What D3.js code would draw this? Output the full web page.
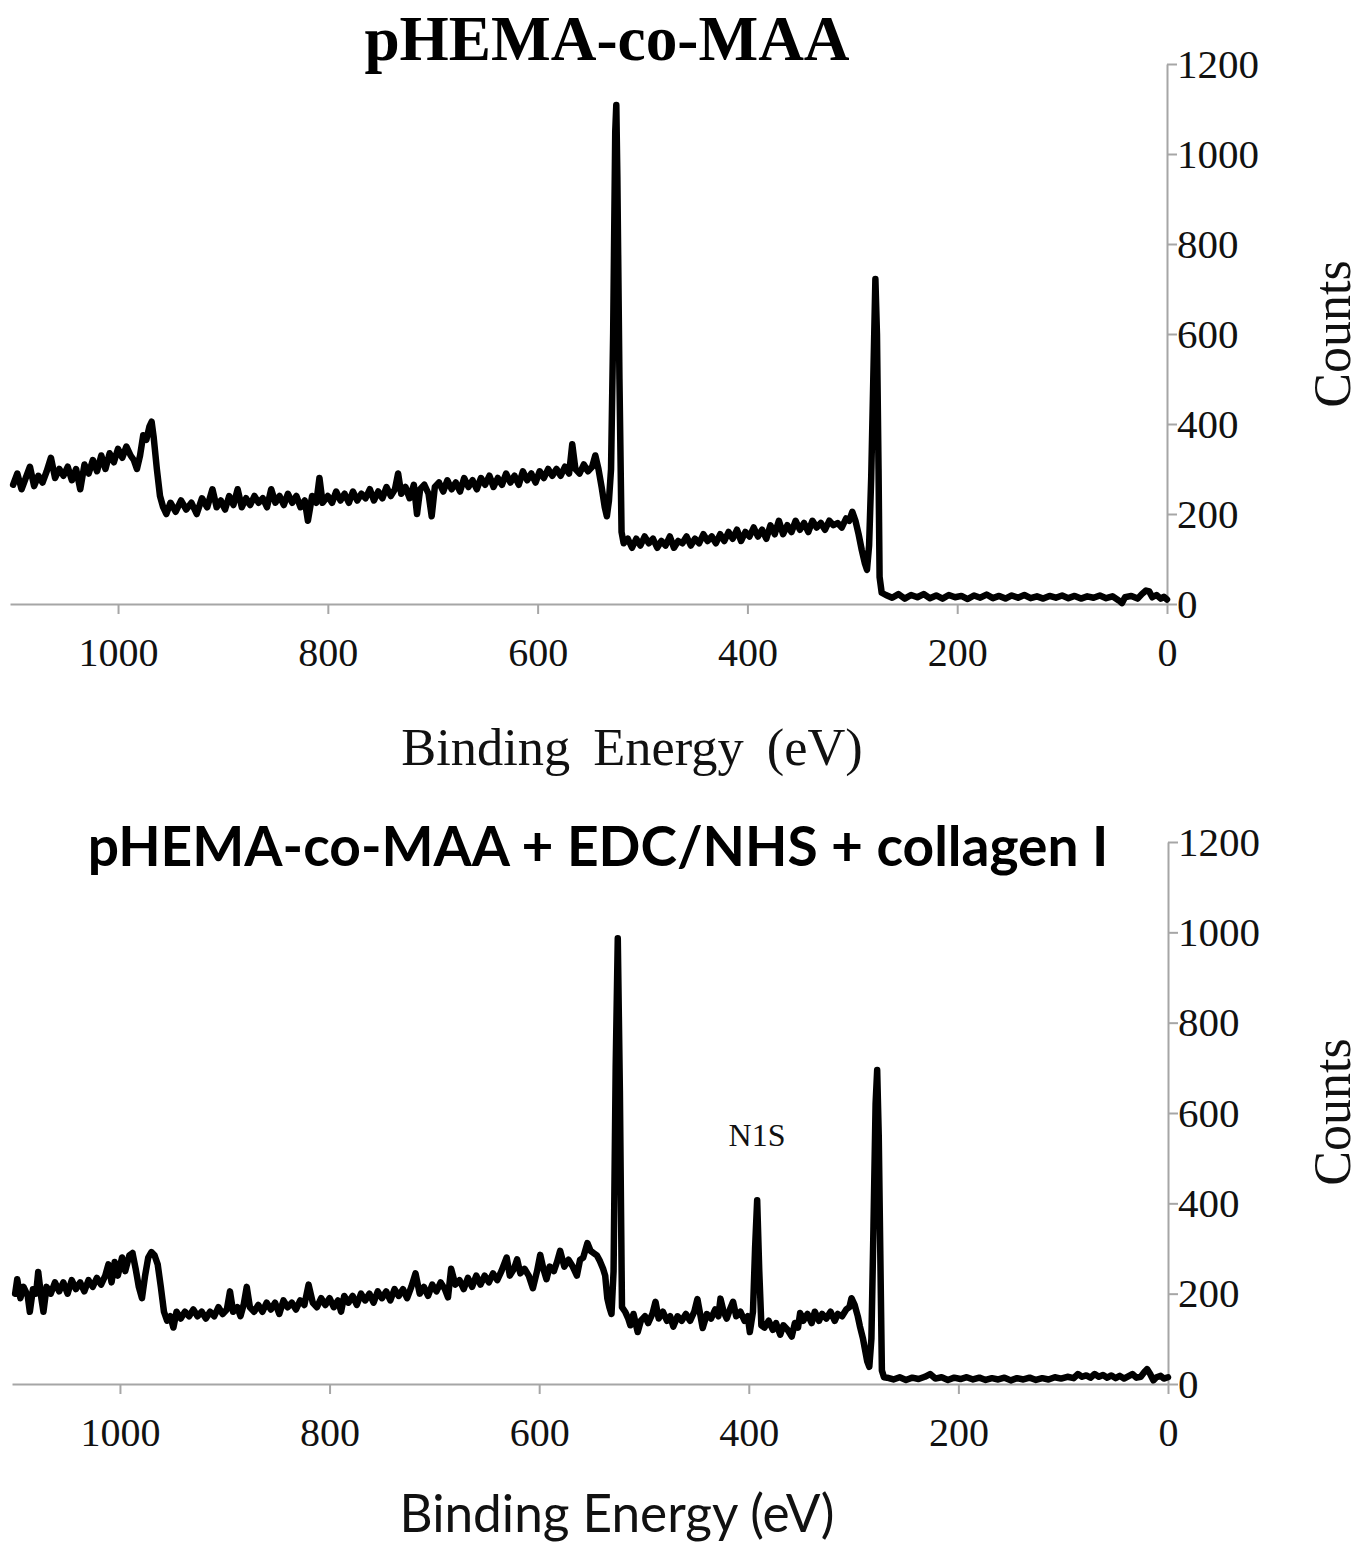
<!DOCTYPE html>
<html>
<head>
<meta charset="utf-8">
<script src="https://cdn.jsdelivr.net/npm/d3@7"></script>
<style>
  body { margin: 0; background: #fff; }
  svg { display: block; }
</style>
</head>
<body>
<div id="chart"></div>
<script>
// XPS survey spectra, [binding energy (eV), counts]
const topSpectrum = [
  [1100, 265], [1096, 290], [1092, 255], [1088, 280], [1084, 305], [1080, 262], [1076, 285], [1072, 270],
  [1068, 295], [1064, 325], [1060, 280], [1056, 300], [1052, 285], [1048, 305], [1044, 275], [1040, 300],
  [1036, 255], [1032, 310], [1028, 290], [1024, 320], [1020, 295], [1016, 330], [1012, 300], [1008, 335],
  [1004, 315], [1000, 345], [996, 325], [992, 350], [988, 330], [985, 320], [982, 300], [979, 330],
  [976, 375], [973, 365], [970, 395], [968, 405], [966, 370], [963, 300], [960, 240], [957, 215],
  [954, 200], [950, 225], [945, 205], [940, 230], [935, 210], [930, 225], [925, 200], [920, 235],
  [915, 215], [910, 255], [906, 215], [902, 230], [898, 210], [894, 240], [890, 220], [886, 255],
  [882, 215], [878, 235], [874, 220], [870, 240], [866, 225], [862, 235], [858, 215], [854, 255],
  [850, 225], [846, 240], [842, 220], [838, 245], [834, 225], [830, 240], [826, 215], [822, 230],
  [819, 185], [815, 240], [811, 225], [808, 280], [805, 225], [800, 240], [796, 225], [792, 250],
  [788, 230], [784, 245], [780, 225], [776, 250], [772, 230], [768, 245], [764, 235], [760, 255],
  [756, 230], [752, 250], [748, 235], [744, 260], [740, 240], [736, 255], [733, 290], [730, 245],
  [726, 260], [722, 235], [718, 265], [715, 200], [712, 255], [708, 265], [704, 245], [701, 195],
  [698, 260], [694, 270], [690, 250], [686, 275], [682, 255], [678, 270], [674, 250], [670, 280],
  [666, 260], [662, 275], [658, 255], [654, 280], [650, 265], [646, 285], [642, 260], [638, 280],
  [634, 265], [630, 290], [626, 270], [622, 285], [618, 265], [614, 295], [610, 275], [606, 290],
  [602, 270], [598, 295], [594, 280], [590, 300], [586, 285], [582, 300], [578, 285], [574, 305],
  [570, 290], [567, 355], [564, 300], [560, 290], [556, 310], [552, 295], [548, 305], [545, 330],
  [542, 300], [539, 260], [536, 215], [534, 195], [532, 230], [530, 300], [528, 600], [526, 1050],
  [525, 1109], [524, 950], [522, 500], [520, 160], [518, 135], [514, 145], [510, 125], [506, 145],
  [502, 130], [498, 150], [494, 135], [490, 145], [486, 125], [482, 140], [478, 130], [474, 150],
  [470, 125], [466, 140], [462, 135], [458, 150], [454, 130], [450, 145], [446, 135], [442, 155],
  [438, 140], [434, 150], [430, 135], [426, 155], [422, 140], [418, 160], [414, 145], [410, 165],
  [406, 140], [402, 160], [398, 150], [394, 170], [390, 150], [386, 165], [382, 145], [378, 175],
  [374, 155], [370, 185], [366, 155], [362, 175], [358, 160], [354, 185], [350, 165], [346, 180],
  [342, 160], [338, 185], [334, 170], [330, 180], [326, 165], [322, 185], [318, 175], [314, 180],
  [310, 170], [306, 190], [303, 185], [300, 205], [297, 185], [294, 155], [291, 120], [288, 90],
  [286, 76], [284, 130], [282, 280], [280, 500], [278, 722], [276.5, 600], [275, 300], [274, 60],
  [272, 25], [268, 20], [262, 14], [256, 22], [250, 12], [244, 20], [238, 15], [232, 22],
  [226, 13], [220, 19], [214, 12], [208, 20], [202, 15], [196, 18], [190, 11], [184, 19],
  [178, 14], [172, 21], [166, 13], [160, 18], [154, 12], [148, 19], [142, 14], [136, 20],
  [130, 13], [124, 17], [118, 12], [112, 18], [106, 14], [100, 19], [94, 13], [88, 18],
  [82, 12], [76, 17], [70, 14], [64, 19], [58, 13], [52, 17], [46, 8], [43, 2],
  [40, 15], [34, 18], [28, 12], [24, 22], [20, 30], [17, 28], [14, 15], [10, 20],
  [6, 12], [3, 16], [0, 10]
];

const bottomSpectrum = [
  [1100, 200], [1098, 232], [1095, 190], [1092, 215], [1088, 195], [1086, 160], [1083, 210], [1080, 200],
  [1078, 248], [1075, 190], [1073, 160], [1070, 215], [1066, 200], [1062, 225], [1058, 205], [1054, 225],
  [1050, 200], [1046, 230], [1042, 210], [1038, 225], [1034, 205], [1030, 230], [1026, 215], [1022, 235],
  [1018, 220], [1014, 240], [1011, 265], [1008, 225], [1005, 270], [1002, 240], [998, 280], [995, 250],
  [991, 285], [988, 290], [985, 255], [982, 215], [979, 190], [976, 240], [973, 280], [970, 292],
  [967, 285], [964, 265], [961, 215], [958, 160], [955, 140], [952, 150], [949, 125], [946, 160],
  [942, 145], [938, 160], [934, 150], [930, 165], [926, 150], [922, 160], [918, 145], [914, 160],
  [910, 150], [906, 170], [902, 155], [898, 165], [895, 205], [892, 160], [888, 170], [885, 150],
  [882, 175], [879, 215], [876, 170], [872, 160], [868, 175], [864, 160], [860, 180], [856, 165],
  [852, 180], [848, 155], [844, 185], [840, 170], [836, 180], [832, 165], [828, 185], [824, 175],
  [820, 220], [816, 180], [812, 170], [808, 190], [804, 175], [800, 190], [796, 170], [792, 185],
  [789, 160], [786, 195], [782, 180], [778, 195], [774, 175], [770, 200], [766, 185], [762, 200],
  [758, 180], [754, 205], [750, 190], [746, 205], [742, 185], [738, 210], [734, 195], [730, 210],
  [726, 190], [722, 215], [718, 245], [714, 200], [710, 215], [706, 195], [702, 220], [698, 205],
  [694, 225], [690, 210], [687, 192], [684, 255], [680, 220], [676, 230], [672, 210], [668, 235],
  [664, 215], [660, 240], [656, 220], [652, 240], [648, 225], [644, 245], [640, 230], [636, 250],
  [631, 280], [628, 240], [624, 255], [621, 276], [618, 245], [614, 255], [610, 240], [606, 212],
  [602, 250], [599, 286], [596, 255], [593, 232], [590, 260], [586, 250], [583, 270], [580, 295],
  [576, 260], [572, 275], [568, 260], [564, 240], [561, 275], [558, 280], [554, 312], [551, 295],
  [548, 290], [545, 285], [542, 272], [539, 255], [537, 240], [535, 190], [533, 170], [531, 155],
  [529, 250], [527, 700], [525, 987], [523, 650], [521, 170], [518, 160], [515, 145], [513, 130],
  [510, 155], [506, 115], [503, 140], [499, 150], [496, 135], [492, 155], [489, 182], [486, 145],
  [482, 160], [478, 140], [475, 150], [472, 127], [468, 150], [464, 140], [460, 155], [456, 140],
  [452, 160], [449, 188], [446, 150], [444, 124], [440, 155], [436, 145], [432, 165], [429, 150],
  [427, 189], [424, 160], [421, 145], [418, 165], [415, 182], [412, 150], [408, 160], [404, 140],
  [401, 150], [399, 115], [396, 160], [394, 300], [392, 407], [390, 250], [388, 130], [385, 125],
  [381, 140], [377, 120], [374, 135], [370, 109], [367, 130], [363, 120], [359, 105], [356, 135],
  [353, 125], [351, 157], [348, 140], [344, 155], [340, 135], [337, 160], [333, 140], [330, 155],
  [326, 145], [322, 160], [318, 140], [315, 155], [311, 150], [307, 165], [304, 170], [302, 190],
  [299, 175], [296, 150], [294, 128], [291, 100], [289, 75], [287, 50], [285, 38], [283, 100],
  [281, 350], [279, 620], [277.5, 695], [276, 550], [274, 200], [273, 30], [271, 15], [268, 14],
  [262, 10], [256, 15], [250, 9], [244, 14], [238, 11], [232, 16], [227, 22], [222, 12],
  [216, 15], [210, 9], [204, 14], [198, 11], [192, 15], [186, 10], [180, 14], [174, 9],
  [168, 13], [162, 10], [156, 14], [150, 8], [144, 13], [138, 10], [132, 14], [126, 9],
  [120, 13], [114, 10], [108, 15], [102, 12], [96, 16], [90, 13], [86, 22], [82, 16],
  [78, 19], [74, 14], [70, 22], [66, 16], [62, 20], [58, 14], [54, 19], [50, 13],
  [46, 18], [42, 12], [38, 17], [34, 22], [30, 14], [26, 16], [22, 28], [20, 33],
  [17, 22], [14, 8], [11, 15], [7, 18], [4, 12], [0, 15]
];

const xTicks = [1000, 800, 600, 400, 200, 0];
const yTicks = [0, 200, 400, 600, 800, 1000, 1200];
const xDomain = [1103, 0];
const yDomain = [0, 1200];

const panels = [
  {
    title: 'pHEMA-co-MAA',
    data: topSpectrum,
    xRange: [10, 1167],
    yRange: [604, 64],
    titleFont: '"Liberation Serif", "Times New Roman", serif',
    titlePos: [607, 60], titleWidth: 485,
    xLabelFont: '"Liberation Serif", "Times New Roman", serif',
    xLabelPos: [632, 765], xLabelWidth: 465, xLabelSpacing: 10,
    countsPos: [1350, 334],
    note: null
  },
  {
    title: 'pHEMA-co-MAA + EDC/NHS + collagen I',
    data: bottomSpectrum,
    xRange: [12, 1168],
    yRange: [1384, 842],
    titleFont: 'Lato, "Open Sans", sans-serif',
    titlePos: [598, 866], titleWidth: 1020,
    xLabelFont: 'Lato, "Open Sans", sans-serif',
    xLabelPos: [617, 1532], xLabelWidth: 435, xLabelSpacing: 0,
    countsPos: [1350, 1112],
    note: { text: 'N1S', x: 757, y: 1146 }
  }
];

const width = 1369;
const height = 1543;
const serif = '"Liberation Serif", "Times New Roman", serif';
const axisColor = '#a6a6a6';

const svg = d3.select('#chart')
  .append('svg')
  .attr('width', width)
  .attr('height', height);

// scale a text's font-size so it spans the wanted width
function fitWidth(text, target) {
  const w = text.node().getComputedTextLength();
  const fs = parseFloat(text.attr('font-size'));
  text.attr('font-size', (fs * target / w).toFixed(1));
}

panels.forEach(p => {
  const x = d3.scaleLinear().domain(xDomain).range(p.xRange);
  const y = d3.scaleLinear().domain(yDomain).range(p.yRange);
  const g = svg.append('g');

  // x axis
  const xAxis = g.append('g')
    .attr('transform', `translate(0,${p.yRange[0]})`)
    .call(d3.axisBottom(x).tickValues(xTicks).tickFormat(d3.format('d'))
      .tickSize(10).tickSizeOuter(0).tickPadding(24));
  xAxis.select('.domain').attr('stroke', axisColor).attr('stroke-width', 2);
  xAxis.selectAll('.tick line').attr('stroke', axisColor).attr('stroke-width', 2);
  xAxis.selectAll('.tick text')
    .attr('font-family', serif)
    .attr('font-size', 40)
    .attr('fill', '#111');

  // y axis on the right
  const yAxis = g.append('g')
    .attr('transform', `translate(${p.xRange[1]},0)`)
    .call(d3.axisRight(y).tickValues(yTicks).tickFormat(d3.format('d'))
      .tickSize(10).tickSizeOuter(0).tickPadding(0));
  yAxis.select('.domain').attr('stroke', axisColor).attr('stroke-width', 2);
  yAxis.selectAll('.tick line').attr('stroke', axisColor).attr('stroke-width', 2);
  yAxis.selectAll('.tick text')
    .attr('font-family', serif)
    .attr('font-size', 41)
    .attr('fill', '#111');

  // spectrum
  const line = d3.line()
    .x(d => x(d[0]))
    .y(d => y(d[1]));

  g.append('path')
    .datum(p.data)
    .attr('d', line)
    .attr('fill', 'none')
    .attr('stroke', '#000')
    .attr('stroke-width', 6.5)
    .attr('stroke-linejoin', 'round')
    .attr('stroke-linecap', 'round');

  // title
  const title = g.append('text')
    .attr('x', p.titlePos[0])
    .attr('y', p.titlePos[1])
    .attr('text-anchor', 'middle')
    .attr('font-family', p.titleFont)
    .attr('font-weight', 'bold')
    .attr('font-size', 56)
    .attr('fill', '#000')
    .text(p.title);
  fitWidth(title, p.titleWidth);

  // x axis label
  const xLabel = g.append('text')
    .attr('x', p.xLabelPos[0])
    .attr('y', p.xLabelPos[1])
    .attr('text-anchor', 'middle')
    .attr('font-family', p.xLabelFont)
    .attr('font-size', 44)
    .attr('word-spacing', p.xLabelSpacing)
    .attr('fill', '#111')
    .text('Binding Energy (eV)');
  fitWidth(xLabel, p.xLabelWidth);

  // y axis label
  g.append('text')
    .attr('transform', `translate(${p.countsPos[0]},${p.countsPos[1]}) rotate(-90)`)
    .attr('text-anchor', 'middle')
    .attr('font-family', serif)
    .attr('font-size', 52)
    .attr('fill', '#111')
    .text('Counts');

  if (p.note) {
    g.append('text')
      .attr('x', p.note.x)
      .attr('y', p.note.y)
      .attr('text-anchor', 'middle')
      .attr('font-family', serif)
      .attr('font-size', 32)
      .attr('fill', '#111')
      .text(p.note.text);
  }
});
</script>
</body>
</html>
